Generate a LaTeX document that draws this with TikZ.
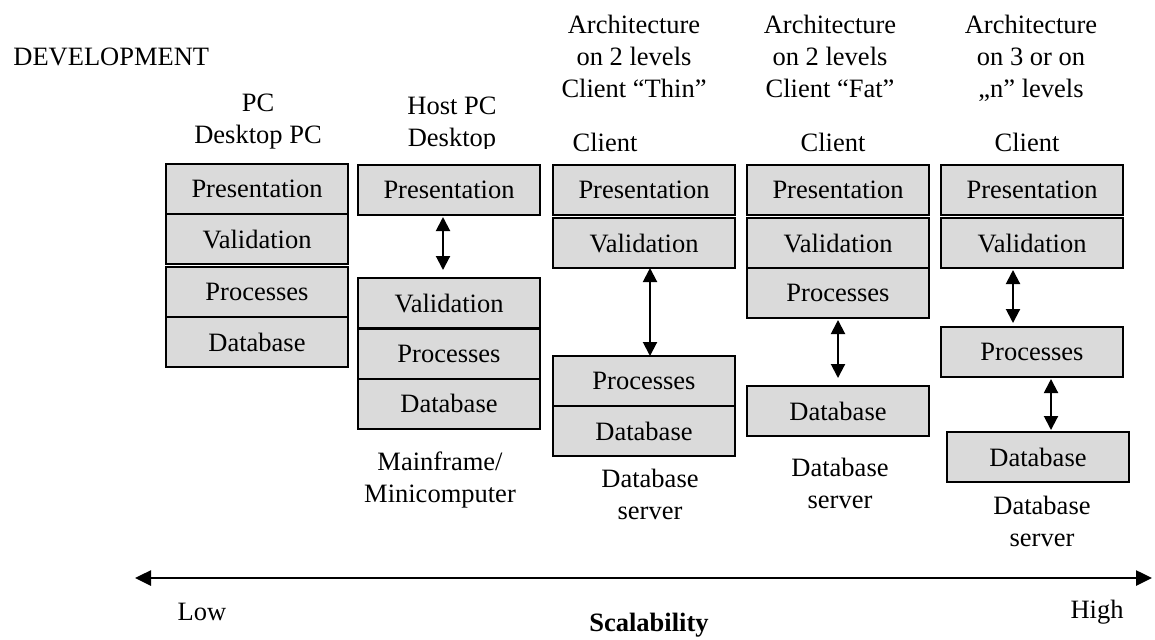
\documentclass[tikz,border=0pt]{standalone}
\usepackage{fontspec}
\setmainfont{Liberation Serif}
\usetikzlibrary{arrows.meta}
\usetikzlibrary{positioning}
\definecolor{layergray}{RGB}{218,218,218}
\tikzset {
  % one tier of an application
  layer/.style = {
    draw = black,
    fill = layergray,
    line width = 0.8pt,
    minimum width = 91pt,
    minimum height = 25pt,
    inner sep = 0pt,
    outer sep = 0pt
  },
  % free text above and below the stacks
  caption/.style = {
    align = center,
    inner sep = 0pt
  },
  % link between two tiers
  link/.style = {
    draw = black,
    line width = 1pt,
    {Triangle[length=7pt,width=7pt]}-{Triangle[length=7pt,width=7pt]}
  },
  scale axis/.style = {
    draw = black,
    line width = 1.3pt,
    {Triangle[length=8pt,width=7.5pt]}-{Triangle[length=8pt,width=7.5pt]}
  },
  node distance = 0pt
}

\begin{document}
\begin{tikzpicture}[x=0.5pt, y=-0.5pt, font=\fontsize{13.25pt}{16pt}\selectfont]
    \useasboundingbox (0,0) rectangle (1155,639);

    \node[caption, anchor=west] (devel) at (13,57) {DEVELOPMENT};

    % PC
    \node[caption] (pc-head) at (258,122) {PC\\Desktop PC};
    \node[layer, anchor=north west] (pc-pres) at (166,164) {Presentation};
    \node[layer] (pc-valid) [below=of pc-pres] {Validation};
    \node[layer] (pc-proc) [below=1.5pt of pc-valid] {Processes};
    \node[layer] (pc-db) [below=of pc-proc] {Database};

    % host
    \begin{scope}
      \clip (300,80) rectangle (600,148);
      \node[caption] (host-head) at (452,124.5) {Host PC\\Desktop};
    \end{scope}
    \node[layer, anchor=north west] (host-pres) at (358,165) {Presentation};
    \node[layer, anchor=north west] (host-valid) at (358,278) {Validation};
    \node[layer] (host-proc) [below=0.4pt of host-valid] {Processes};
    \node[layer] (host-db) [below=of host-proc] {Database};
    \node[caption] (host-foot) at (440,480) {Mainframe/\\Minicomputer};

    % thin client
    \node[caption, anchor=north] (thin-head) at (634,15) {Architecture\\on 2 levels\\Client ``Thin''};
    \node[caption] (thin-client) at (605,142) {Client};
    \node[layer, anchor=north west] (thin-pres) at (553,165) {Presentation};
    \node[layer] (thin-valid) [below=1.5pt of thin-pres] {Validation};
    \node[layer, anchor=north west] (thin-proc) at (553,356) {Processes};
    \node[layer] (thin-db) [below=of thin-proc] {Database};
    \node[caption] (thin-foot) at (650,494) {Database\\server};

    % fat client
    \node[caption, anchor=north] (fat-head) at (830,15) {Architecture\\on 2 levels\\Client ``Fat''};
    \node[caption] (fat-client) at (833,142) {Client};
    \node[layer, anchor=north west] (fat-pres) at (747,165) {Presentation};
    \node[layer] (fat-valid) [below=1.5pt of fat-pres] {Validation};
    \node[layer] (fat-proc) [below=of fat-valid] {Processes};
    \node[layer, anchor=north west] (fat-db) at (747,386) {Database};
    \node[caption] (fat-foot) at (840,483) {Database\\server};

    % n levels
    \node[caption, anchor=north] (multi-head) at (1031,15) {Architecture\\on 3 or on\\,,n'' levels};
    \node[caption] (multi-client) at (1027,142) {Client};
    \node[layer, anchor=north west] (multi-pres) at (941,165) {Presentation};
    \node[layer] (multi-valid) [below=1.5pt of multi-pres] {Validation};
    \node[layer, anchor=north west] (multi-proc) at (941,327) {Processes};
    \node[layer, anchor=north west] (multi-db) at (947,432) {Database};
    \node[caption] (multi-foot) at (1042,521) {Database\\server};

    \draw[link, shorten <=1pt, shorten >=4pt] ([xshift=-3pt]host-pres.south) -- ([xshift=-3pt]host-valid.north);
    \draw[link] ([xshift=3pt]thin-valid.south) -- ([xshift=3pt]thin-proc.north);
    \draw[link, shorten <=1pt, shorten >=4pt] (fat-proc.south) -- (fat-db.north);
    \draw[link, shorten <=1pt, shorten >=2pt] ([xshift=-9.5pt]multi-valid.south) -- ([xshift=-9.5pt]multi-proc.north);
    \draw[link, shorten <=1pt, shorten >=1pt] ([xshift=9.5pt]multi-proc.south) -- ([xshift=6.5pt]multi-db.north);

    % scalability axis
    \coordinate (low-end) at (135,578);
    \coordinate (high-end) at (1152,578);
    \draw[scale axis] (low-end) -- (high-end);
    \node[caption] (low) at (202,612) {Low};
    \node[caption] (high) at (1097,612) {High};
    \node[caption] (scal) at (649,625) {\bfseries Scalability};
\end{tikzpicture}
\end{document}
